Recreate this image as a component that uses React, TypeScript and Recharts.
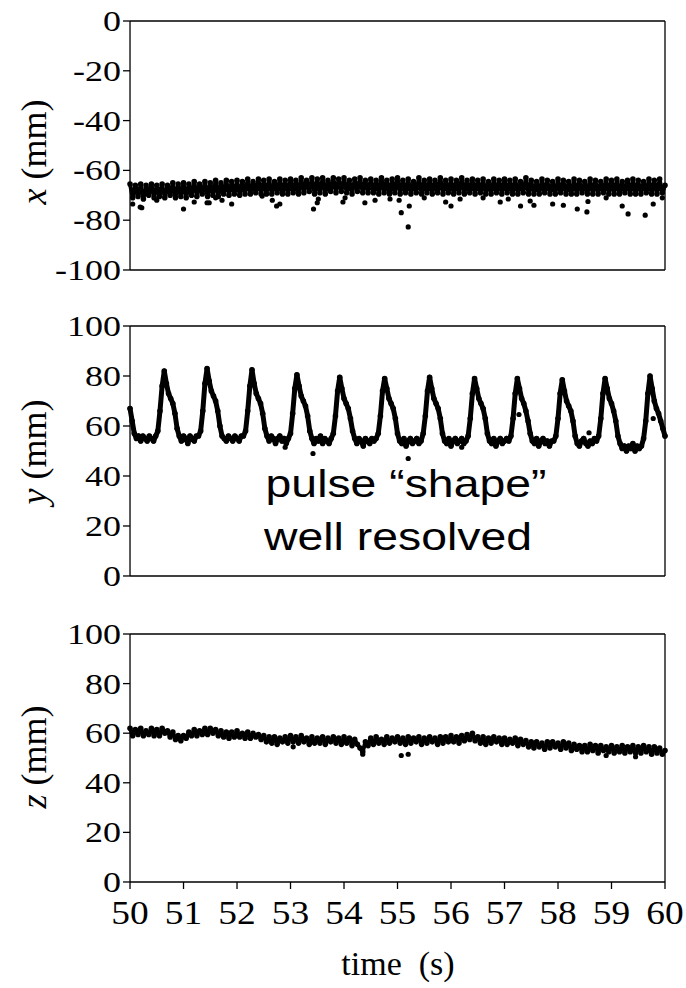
import React from 'react';
import { ComposedChart, Line, Scatter, XAxis, YAxis } from 'recharts';

// time axis (s)
const timeMajor = [50, 51, 52, 53, 54, 55, 56, 57, 58, 59, 60];
const timeMinor = [50.5, 51.5, 52.5, 53.5, 54.5, 55.5, 56.5, 57.5, 58.5, 59.5];
const xMajor = [-100, -80, -60, -40, -20, 0];
const xMinor = [-90, -70, -50, -30, -10];
const posMajor = [0, 20, 40, 60, 80, 100];
const posMinor = [10, 30, 50, 70, 90];

const T0 = 50;
const X_STEP = 0.05;
const Y_STEP = 0.04;
const Z_STEP = 0.05;

// x (mm), one value every 0.05 s from 50 s
const xSeries = [
  -65.5, -71, -66, -70.5, -65.5, -71.5, -66, -70, -65.5, -71,
  -66, -70.5, -65.5, -71, -66, -70, -65, -71, -65.5, -70.5,
  -65, -71, -65.5, -70, -64.5, -70.5, -65.5, -69.5, -64.5, -70.5,
  -65, -70, -64, -70.5, -65, -69.5, -64, -70, -64.5, -69.5,
  -64, -70, -64.5, -69.5, -63.5, -69.5, -64.5, -69, -63.5, -69.5,
  -64, -69.5, -63.5, -69.5, -64.5, -69, -63.5, -69.5, -64, -69.5,
  -63.5, -69, -64, -69.5, -63, -69, -64, -68.5, -63, -69.5,
  -63.5, -69, -63, -69.5, -64, -68.5, -63, -69, -63.5, -68.5,
  -63, -69, -64, -69.5, -63.5, -68.5, -63, -69, -64, -69,
  -63.5, -69, -64, -69.5, -63, -69, -64, -69.5, -63.5, -69,
  -63, -69.5, -64, -69, -63.5, -69.5, -64.5, -69, -63, -69.5,
  -64, -69, -63.5, -69.5, -64, -69, -63, -69.5, -64, -69,
  -63.5, -69.5, -64, -69, -63, -69.5, -64, -69, -63.5, -69.5,
  -64, -69, -63.5, -69.5, -64.5, -69.5, -63.5, -69, -64, -69.5,
  -63.5, -69, -64, -69.5, -63.5, -69.5, -64.5, -69, -63, -69.5,
  -64, -69.5, -64.5, -69.5, -63.5, -69, -64, -69.5, -64.5, -69.5,
  -63.5, -69, -64, -69.5, -64.5, -69.5, -63.5, -69.5, -64, -69,
  -64.5, -69.5, -63.5, -69.5, -64, -69.5, -64.5, -69, -63.5, -69.5,
  -64, -69.5, -63.5, -69.5, -64.5, -69, -64, -69.5, -63.5, -69.5,
  -64, -69.5, -64.5, -69, -63.5, -69.5, -64, -69.5, -63.5, -69,
  -66,
];

// scattered low points of x
const xOutT = [50.05, 50.19, 50.22, 50.5, 51.0, 51.2, 51.44, 51.48, 51.6, 51.72, 51.9, 52.47, 52.66, 52.74, 52.8, 53.43, 53.5, 53.52, 53.98, 54.02, 54.39, 54.58, 54.86, 55.03, 55.07, 55.2, 55.22, 55.5, 55.9, 56.0, 56.17, 56.6, 56.92, 57.07, 57.3, 57.48, 57.55, 57.9, 58.1, 58.36, 58.54, 58.56, 58.9, 59.2, 59.31, 59.63, 59.78, 59.95];
const xOutV = [-73.5, -74.7, -75, -72, -75.5, -72.7, -73, -73, -71, -72, -73.5, -70.3, -72, -74.3, -73.5, -75.5, -73, -71.5, -72.7, -71, -73, -72, -71.5, -72, -77, -82.7, -74.3, -71, -72.7, -74.3, -71.5, -71, -72.7, -71.5, -74.3, -72.3, -74, -73.5, -74, -75.5, -76.7, -72.5, -71, -74.3, -77.5, -78, -73.5, -71];

// y (mm), one value every 0.04 s from 50 s
const ySeries = [
  67, 62, 57, 55, 56, 54, 56, 55, 54, 56,
  55, 54, 56, 58, 66, 76, 82, 77, 73, 71,
  69, 65, 59, 56, 54, 56, 55, 53, 56, 55,
  54, 56, 56, 58, 66, 77, 83, 78, 74, 72,
  70, 66, 60, 56, 55, 54, 56, 55, 54, 56,
  55, 54, 56, 56, 58, 66, 76, 82.5, 77, 73,
  71, 69, 65, 59, 56, 54, 56, 55, 53, 55,
  56, 54, 55, 53, 55, 57, 65, 75, 80.5, 76,
  72, 70, 68, 64, 58, 55, 53, 55, 54, 56,
  53, 55, 54, 53, 55, 57, 64, 74, 79.5, 75,
  71, 69, 67, 63, 58, 55, 53, 55, 54, 52,
  55, 54, 53, 55, 54, 55, 57, 64, 74, 79,
  75, 71, 69, 67, 63, 57, 54, 53, 55, 52,
  54, 55, 53, 54, 55, 53, 54, 57, 64, 74,
  79.5, 75, 71, 69, 67, 63, 57, 54, 53, 55,
  52, 54, 55, 53, 54, 55, 53, 54, 56, 63,
  73, 79, 75, 71, 69, 67, 63, 57, 54, 53,
  55, 52, 54, 55, 53, 54, 55, 54, 56, 63,
  73, 79, 75, 71, 69, 66, 62, 57, 54, 53,
  55, 52, 54, 55, 53, 54, 52, 54, 54, 56,
  63, 73, 78.5, 74, 70, 68, 66, 62, 56, 53,
  52, 54, 55, 53, 52, 54, 53, 55, 54, 56,
  63, 73, 79, 75, 71, 69, 66, 62, 56, 53,
  51, 52, 50, 52, 51, 53, 50, 52, 51, 52,
  55, 62, 73, 80, 75, 70, 67, 65, 62, 59,
  56,
];

const yOutT = [52.9, 53.42, 55.2, 56.2, 57.27, 58.58, 59.78];
const yOutV = [51.5, 49, 47, 51.5, 64.6, 57.3, 63];

// z (mm), one value every 0.05 s from 50 s
const zSeries = [
  62, 59, 61.5, 59.5, 62, 59, 61, 59.5, 62, 59,
  61.5, 59, 62, 60, 61, 58.5, 60.5, 57.5, 59, 57,
  59, 58, 60.5, 59, 61.5, 59, 61, 59.5, 62, 59.5,
  62, 60, 61.5, 59, 61, 58.5, 60.5, 58, 60.5, 58.5,
  61, 58.5, 60, 58, 60.5, 58, 60, 58.5, 59.5, 57.5,
  59, 56.5, 58.5, 56, 58.5, 55.5, 58, 56.5, 58.5, 56,
  59, 56.5, 58.5, 56, 59, 56.5, 58, 55.5, 58.5, 56,
  58, 56, 58.5, 55.5, 58, 56.5, 58.5, 56, 58, 55.5,
  58.5, 56, 58, 55, 57.5, 55.5, 54, 52.5, 56.5, 55,
  58, 55.5, 58.5, 56, 57.5, 55.5, 58.5, 56, 58, 56.5,
  58.5, 56, 58, 55.5, 58.5, 56, 58, 56.5, 58.5, 55.5,
  58, 56, 58.5, 56.5, 58, 55.5, 58.5, 56, 58.5, 56.5,
  59, 56.5, 58.5, 56, 59, 57, 59.5, 57.5, 60, 57,
  58.5, 56, 58.5, 55.5, 58, 56, 58.5, 56.5, 58, 55.5,
  58, 55.5, 57.5, 56, 58, 55, 57.5, 55.5, 57, 54.5,
  56.5, 54, 56.5, 54.5, 56, 53.5, 56.5, 54, 56.5, 54.5,
  56, 53.5, 56.5, 54, 56, 53, 55.5, 53.5, 55, 52.5,
  55, 52.5, 55.5, 53, 55, 52, 55, 53, 54.5, 52.5,
  55, 52, 54.5, 52.5, 55, 52, 54.5, 52.5, 55, 52,
  54.5, 52, 55, 52.5, 54.5, 51.5, 54.5, 52, 54, 51.5,
  53,
];

const zOutT = [53.05, 54.35, 55.07, 55.2, 58.9, 59.45];
const zOutV = [54.5, 51.5, 51, 51.5, 51, 50.5];

const toRows = (vals: number[], step: number) =>
  vals.map((v, i) => ({ t: +(T0 + i * step).toFixed(2), v }));
const toPoints = (ts: number[], vs: number[]) => ts.map((t, i) => ({ t, v: vs[i] }));

const serif = '"Liberation Serif", "Times New Roman", serif';
const sans = '"Liberation Sans", Arial, sans-serif';
const axisStyle = { stroke: '#000', strokeWidth: 1.3 };
// axes need a size above zero to be drawn, keep it tiny so they all sit on the frame
const THIN = 0.01;

function ValueTick(props: any) {
  const { x, y, payload } = props;
  return (
    <g transform={`translate(${x},${y + 10}) scale(1.2,1)`}>
      <text textAnchor="end" fontFamily={serif} style={{ fontFamily: serif }} fontSize={30} fill="#000">
        {payload.value}
      </text>
    </g>
  );
}

function TimeTick(props: any) {
  const { x, y, payload } = props;
  return (
    <g transform={`translate(${x},${y + 33}) scale(1.1,1)`}>
      <text textAnchor="middle" fontFamily={serif} style={{ fontFamily: serif }} fontSize={34} fill="#000">
        {payload.value}
      </text>
    </g>
  );
}

const dotShape = (p: any) => <circle cx={p.cx} cy={p.cy} r={2.6} fill="#000" />;

interface PanelProps {
  top: number;
  height: number;
  mt: number;
  mb: number;
  rows: { t: number; v: number }[];
  points: { t: number; v: number }[];
  domain: [number, number];
  major: number[];
  minor: number[];
  lineWidth: number;
  showTime?: boolean;
}

function Panel({ top, height, mt, mb, rows, points, domain, major, minor, lineWidth, showTime }: PanelProps) {
  return (
    <div style={{ position: 'absolute', left: 0, top }}>
      <ComposedChart width={686} height={height} data={rows} margin={{ top: mt, right: 21, bottom: mb, left: 130 }}>
        <XAxis xAxisId="b" dataKey="t" type="number" domain={[50, 60]} ticks={timeMajor} interval={0}
          orientation="bottom" height={THIN} tickSize={7} axisLine={axisStyle} tickLine={axisStyle}
          tick={showTime ? TimeTick : false} />
        <XAxis xAxisId="bm" type="number" domain={[50, 60]} ticks={timeMinor} interval={0}
          orientation="bottom" height={THIN} tickSize={4} axisLine={false} tickLine={axisStyle} tick={false} />
        <XAxis xAxisId="t" type="number" domain={[50, 60]} ticks={timeMajor} interval={0}
          orientation="top" mirror height={THIN} tickSize={7} axisLine={axisStyle} tickLine={axisStyle} tick={false} />
        <XAxis xAxisId="tm" type="number" domain={[50, 60]} ticks={timeMinor} interval={0}
          orientation="top" mirror height={THIN} tickSize={4} axisLine={false} tickLine={axisStyle} tick={false} />
        <YAxis yAxisId="l" type="number" domain={domain} ticks={major} interval={0}
          orientation="left" width={THIN} tickSize={7} axisLine={axisStyle} tickLine={axisStyle} tick={ValueTick} />
        <YAxis yAxisId="lm" type="number" domain={domain} ticks={minor} interval={0}
          orientation="left" width={THIN} tickSize={4} axisLine={false} tickLine={axisStyle} tick={false} />
        <YAxis yAxisId="r" type="number" domain={domain} ticks={major} interval={0}
          orientation="right" mirror width={THIN} tickSize={7} axisLine={axisStyle} tickLine={axisStyle} tick={false} />
        <YAxis yAxisId="rm" type="number" domain={domain} ticks={minor} interval={0}
          orientation="right" mirror width={THIN} tickSize={4} axisLine={false} tickLine={axisStyle} tick={false} />
        <Line xAxisId="b" yAxisId="l" dataKey="v" type="linear" stroke="#000" strokeWidth={lineWidth}
          strokeLinejoin="round" strokeLinecap="round"
          dot={{ r: 2.8, fill: '#000', stroke: 'none' }} activeDot={false} isAnimationActive={false} />
        <Scatter xAxisId="b" yAxisId="l" data={points} dataKey="v" fill="#000" shape={dotShape}
          isAnimationActive={false} />
      </ComposedChart>
    </div>
  );
}

export default function App() {
  return (
    <div style={{ position: 'absolute', left: 0, top: 0, width: 686, height: 988, background: '#fff' }}>
      <Panel top={0} height={300} mt={21} mb={30} rows={toRows(xSeries, X_STEP)} points={toPoints(xOutT, xOutV)}
        domain={[-100, 0]} major={xMajor} minor={xMinor} lineWidth={4} />
      <Panel top={300} height={300} mt={26} mb={24} rows={toRows(ySeries, Y_STEP)} points={toPoints(yOutT, yOutV)}
        domain={[0, 100]} major={posMajor} minor={posMinor} lineWidth={5} />
      <Panel top={600} height={388} mt={34} mb={106} rows={toRows(zSeries, Z_STEP)} points={toPoints(zOutT, zOutV)}
        domain={[0, 100]} major={posMajor} minor={posMinor} lineWidth={4} showTime />
      <svg width={686} height={988} style={{ position: 'absolute', left: 0, top: 0, pointerEvents: 'none' }}>
        <text transform="translate(46,152) rotate(-90)" textAnchor="middle" fontFamily={serif} fontSize={36} fill="#000">
          <tspan fontStyle="italic">x</tspan> (mm)
        </text>
        <text transform="translate(46,452) rotate(-90)" textAnchor="middle" fontFamily={serif} fontSize={36} fill="#000">
          <tspan fontStyle="italic">y</tspan> (mm)
        </text>
        <text transform="translate(46,757) rotate(-90)" textAnchor="middle" fontFamily={serif} fontSize={36} fill="#000">
          <tspan fontStyle="italic">z</tspan> (mm)
        </text>
        <text x={398} y={975} textAnchor="middle" fontFamily={serif} fontSize={34} fill="#000" xmlSpace="preserve">
          time  (s)
        </text>
        <g transform="translate(406,497) scale(1.22,1)">
          <text textAnchor="middle" fontFamily={sans} fontSize={38} fill="#000">pulse “shape”</text>
        </g>
        <g transform="translate(398,550) scale(1.22,1)">
          <text textAnchor="middle" fontFamily={sans} fontSize={38} fill="#000">well resolved</text>
        </g>
      </svg>
    </div>
  );
}
